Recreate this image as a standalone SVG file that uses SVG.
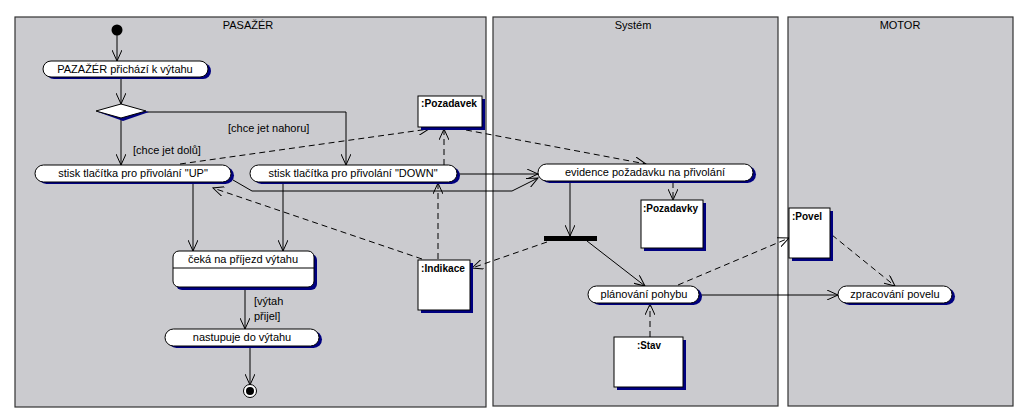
<svg xmlns="http://www.w3.org/2000/svg" width="1023" height="417" viewBox="0 0 1023 417">
<defs>
<marker id="arr" viewBox="0 0 12 10" refX="11" refY="5" markerWidth="12" markerHeight="10" markerUnits="userSpaceOnUse" orient="auto">
<path d="M0,0 L11,5 L0,10" fill="none" stroke="#000" stroke-width="1"/>
</marker>
</defs>
<style>
text{font-family:"Liberation Sans",Arial,sans-serif;font-size:11px;fill:#000}
.lane{fill:#cbcbcf;stroke:#333;stroke-width:1.2}
.lt{text-anchor:middle}
.act{fill:#fff;stroke:#000;stroke-width:1}
.sh{fill:#000080;stroke:none}
.obj{fill:#fff;stroke:#000;stroke-width:1}
.ot{font-weight:bold}
.c{fill:none;stroke:#000;stroke-width:1;marker-end:url(#arr)}
.d{fill:none;stroke:#000;stroke-width:1;stroke-dasharray:6,4;marker-end:url(#arr)}
</style>
<rect width="1023" height="417" fill="#fff"/>
<g id="lane-pasazer"><rect class="lane" x="15" y="17" width="471" height="390"/><text class="lt" x="248" y="29">PASAŽÉR</text></g>
<g id="lane-system"><rect class="lane" x="493" y="17" width="285" height="389"/><text class="lt" x="633" y="29">Systém</text></g>
<g id="lane-motor"><rect class="lane" x="788" y="17" width="225" height="389"/><text class="lt" x="900" y="29">MOTOR</text></g>

<g id="connectors">
<path class="c" d="M117,35 V61"/>
<path class="c" d="M121,77 V104"/>
<path class="c" d="M121,119 V165"/>
<path class="c" d="M146,112 H346 V165"/>
<path class="c" d="M193,183 V251"/>
<path class="c" d="M283,182 V251"/>
<path class="c" d="M245,287 V329"/>
<path class="c" d="M250,347 V385"/>
<path class="d" d="M180,164 L429,129"/>
<path class="d" d="M444,165 V129"/>
<path class="d" d="M466,130 L646,164"/>
<path class="c" d="M457,174 H538"/>
<path class="c" d="M233,180 L252,191 H512 L538,178"/>
<path class="d" d="M422,259 L213,188"/>
<path class="d" d="M438,259 V183"/>
<path class="d" d="M547,242 L472,268"/>
<path class="c" d="M570,182 V236"/>
<path class="d" d="M673,182 V200"/>
<path class="c" d="M587,241 L645,286"/>
<path class="d" d="M678,285 L789,238"/>
<path class="d" d="M650,337 V304"/>
<path class="c" d="M700,295 H838"/>
<path class="d" d="M832,235 L895,286"/>
</g>

<g id="initial"><circle cx="117" cy="30" r="5.5" fill="#000"/></g>
<g id="a-prichazi"><rect class="sh" x="46" y="63" width="165" height="16" rx="8"/><rect class="act" x="43" y="61" width="165" height="16" rx="8"/><text class="lt" x="125" y="73">PAZAŽÉR přichází k výtahu</text></g>
<g id="decision"><path class="sh" d="M98,112 L123,106 L149,112 L123,121 Z"/><path class="act" d="M96,111 L121,104 L146,111 L121,118 Z"/></g>
<g id="lbl-nahoru"><text x="228" y="132">[chce jet nahoru]</text></g>
<g id="lbl-dolu"><text x="133" y="154">[chce jet dolů]</text></g>
<g id="a-up"><rect class="sh" x="38" y="167" width="196" height="17" rx="8.5"/><rect class="act" x="35" y="165" width="196" height="17" rx="8.5"/><text class="lt" x="133" y="177">stisk tlačítka pro přivolání "UP"</text></g>
<g id="a-down"><rect class="sh" x="253" y="167" width="207" height="17" rx="8.5"/><rect class="act" x="250" y="165" width="207" height="17" rx="8.5"/><text class="lt" x="353" y="177">stisk tlačítka pro přivolání "DOWN"</text></g>
<g id="s-ceka"><rect class="sh" x="176" y="254" width="141" height="36" rx="6"/><rect class="act" x="173" y="251" width="141" height="36" rx="6"/><line x1="173" y1="268" x2="314" y2="268" stroke="#000"/><text class="lt" x="243" y="263">čeká na příjezd výtahu</text></g>
<g id="lbl-prijel"><text x="254" y="305">[výtah</text><text x="254" y="320">přijel]</text></g>
<g id="a-nastupuje"><rect class="sh" x="168" y="331" width="154" height="17" rx="8.5"/><rect class="act" x="165" y="329" width="154" height="17" rx="8.5"/><text class="lt" x="242" y="341">nastupuje do výtahu</text></g>
<g id="final"><circle cx="250" cy="391" r="6.5" fill="#fff" stroke="#000"/><circle cx="250" cy="391" r="4" fill="#000"/></g>

<g id="o-pozadavek"><rect class="sh" x="421" y="99" width="64" height="31"/><rect class="obj" x="418" y="96" width="64" height="31"/><text class="ot" x="421" y="107" textLength="56" lengthAdjust="spacingAndGlyphs">:Pozadavek</text></g>
<g id="o-indikace"><rect class="sh" x="421" y="263" width="52" height="50"/><rect class="obj" x="418" y="260" width="52" height="50"/><text class="ot" x="421" y="272" textLength="44" lengthAdjust="spacingAndGlyphs">:Indikace</text></g>

<g id="a-evidence"><rect class="sh" x="541" y="166" width="215" height="17" rx="8.5"/><rect class="act" x="538" y="164" width="215" height="17" rx="8.5"/><text class="lt" x="645" y="176">evidence požadavku na přivolání</text></g>
<g id="o-pozadavky"><rect class="sh" x="644" y="203" width="62" height="48"/><rect class="obj" x="641" y="200" width="62" height="48"/><text class="ot" x="643" y="212" textLength="55" lengthAdjust="spacingAndGlyphs">:Pozadavky</text></g>
<g id="join"><rect x="544" y="236" width="53" height="5" fill="#000"/></g>
<g id="a-planovani"><rect class="sh" x="591" y="288" width="111" height="17" rx="8.5"/><rect class="act" x="588" y="286" width="111" height="17" rx="8.5"/><text class="lt" x="644" y="298">plánování pohybu</text></g>
<g id="o-stav"><rect class="sh" x="617" y="340" width="69" height="50"/><rect class="obj" x="614" y="337" width="69" height="50"/><text class="ot" x="637" y="349" textLength="24" lengthAdjust="spacingAndGlyphs">:Stav</text></g>

<g id="o-povel"><rect class="sh" x="792" y="211" width="41" height="50"/><rect class="obj" x="789" y="208" width="41" height="50"/><text class="ot" x="792" y="220" textLength="30" lengthAdjust="spacingAndGlyphs">:Povel</text></g>
<g id="a-zpracovani"><rect class="sh" x="841" y="288" width="114" height="17" rx="8.5"/><rect class="act" x="838" y="286" width="114" height="17" rx="8.5"/><text class="lt" x="895" y="298">zpracování povelu</text></g>
</svg>
